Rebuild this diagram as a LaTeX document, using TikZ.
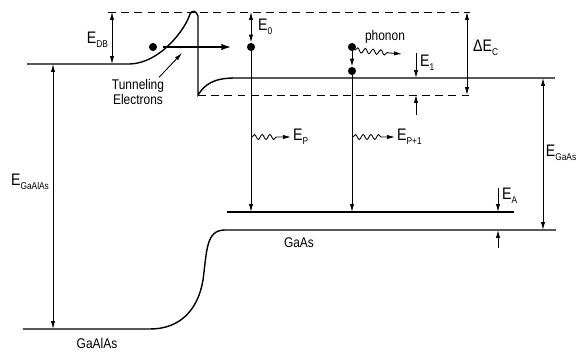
\documentclass[tikz,border=0pt]{standalone}
\usepackage{fontspec}
\setmainfont{Liberation Sans}[FakeStretch=0.85]
\usetikzlibrary{arrows.meta, positioning, decorations.pathmorphing}
\newcommand{\lsub}[1]{\raisebox{-0.45ex}{\fontsize{5.6}{6}\selectfont #1}}

\begin{document}
\begin{tikzpicture}[x=0.02cm, y=-0.02cm, font=\fontsize{8}{8.5}\selectfont,
  band/.style={line width=0.8pt},
  dsh/.style={line width=0.5pt, dash pattern=on 4.5pt off 3pt},
  dimm/.style={line width=0.5pt, {Latex[length=4.5pt,width=2.4pt]}-{Latex[length=4.5pt,width=2.4pt]}},
  tip/.style={line width=0.5pt, -{Latex[length=4.5pt,width=2.4pt]}},
  wav/.style={line width=0.5pt, -{Latex[length=4.5pt,width=2.4pt]}, decorate,
              decoration={snake, amplitude=1.4pt, segment length=4.4pt, post length=7pt}},
  el/.style={circle, fill=black, inner sep=0pt, minimum size=4.6pt},
  elab/.style={inner sep=1pt, font=\fontsize{9.5}{10}\selectfont},
  lab/.style={inner sep=1pt, align=center}]
\useasboundingbox (0,0) rectangle (576,352);

% band edges
\draw[band] (27,64) -- (130,64) .. controls (160,63) and (185,30) .. (190,14)
  .. controls (192,10) and (196,10) .. (198,16) -- (198,95)
  .. controls (205,84) and (214,78) .. (235,78) -- (555,78);
\draw[band] (23,329) -- (150,329) .. controls (180,329) and (198,310) .. (203,280)
  .. controls (207,250) and (206,230) .. (225,230) -- (556,230);
\draw[band] (227,212) -- (514,212);
\draw[dsh] (108,12) -- (470,12);
\draw[dsh] (198,95) -- (473,95);

% barrier height and gap of GaAlAs
\coordinate (dbT) at (112,12);
\coordinate (dbB) at (112,64);
\draw[dimm] (dbT) -- (dbB);
\node[elab, anchor=east] (lDB) at (110,40) {E\lsub{DB}};
\coordinate (gT) at (53,64);
\coordinate (gB) at (53,329);
\draw[dimm] (gT) -- (gB);
\node[elab, anchor=east] (lGaAlAs) at (51,182) {E\lsub{GaAlAs}};

% tunneling electrons
\node[el] (eT) at (153,47) {};
\coordinate (eTend) at (232,47);
\draw[line width=1.3pt, -{Latex[length=6pt,width=3.6pt]}] ([xshift=3pt]eT.east) -- (eTend);
\node[lab] (tun) at (138,92) {Tunneling\\Electrons};
\coordinate (tunTip) at (182,53);
\draw[tip] ([xshift=-4pt]tun.north east) -- (tunTip);

% E_0 transition
\node[el] (d0) at (251,47) {};
\coordinate (t0) at (251,12);
\coordinate (a0) at (251,212);
\draw[dimm] (t0) -- (d0.north);
\draw[tip] (d0.south) -- (a0);
\node[elab, anchor=west] (l0) at (256,27) {E\lsub{0}};
\coordinate (wP0) at (252,137);
\coordinate (wP1) at (291,137);
\draw[wav] (wP0) -- (wP1);
\node[elab, anchor=west, right=0pt of wP1] (lP) {E\lsub{P}};

% E_1 relaxation
\node[el] (d1) at (352,47) {};
\node[el] (d2) at (352,71) {};
\draw[tip] (d1.south) -- (d2.north);
\coordinate (a1) at (352,212);
\draw[tip] (d2.south) -- (a1);
\coordinate (ph) at (402,54);
\draw[wav] (d1.south east) -- (ph);
\node[lab] (lph) at (385,37) {phonon};
\coordinate (wQ0) at (353,137);
\coordinate (wQ1) at (395,137);
\draw[wav] (wQ0) -- (wQ1);
\node[elab, anchor=west, right=0pt of wQ1] (lP1) {E\lsub{P+1}};

\coordinate (e1a) at (416,53);
\coordinate (e1b) at (416,78);
\coordinate (e1c) at (416,115);
\coordinate (e1d) at (416,95);
\draw[tip] (e1a) -- (e1b);
\draw[tip] (e1c) -- (e1d);
\node[elab, anchor=west] (l1) at (418,63) {E\lsub{1}};

% band offset, GaAs gap, acceptor energy
\coordinate (cT) at (467,12);
\coordinate (cB) at (467,95);
\draw[dimm] (cT) -- (cB);
\node[elab, anchor=west] (lC) at (471,48) {ΔE\lsub{C}};
\coordinate (sT) at (543,78);
\coordinate (sB) at (543,230);
\draw[dimm] (sT) -- (sB);
\node[elab, anchor=west, inner sep=0.3pt] (lGaAs) at (545,153) {E\lsub{GaAs}};
\coordinate (aa) at (498,188);
\coordinate (ab) at (498,212);
\coordinate (ac) at (498,248);
\coordinate (ad) at (498,230);
\draw[tip] (aa) -- (ab);
\draw[tip] (ac) -- (ad);
\node[elab, anchor=west] (lA) at (500,196) {E\lsub{A}};

\node[lab] (mGaAs) at (299,243) {GaAs};
\node[lab] (mGaAlAs) at (97,343) {GaAlAs};
\end{tikzpicture}
\end{document}
